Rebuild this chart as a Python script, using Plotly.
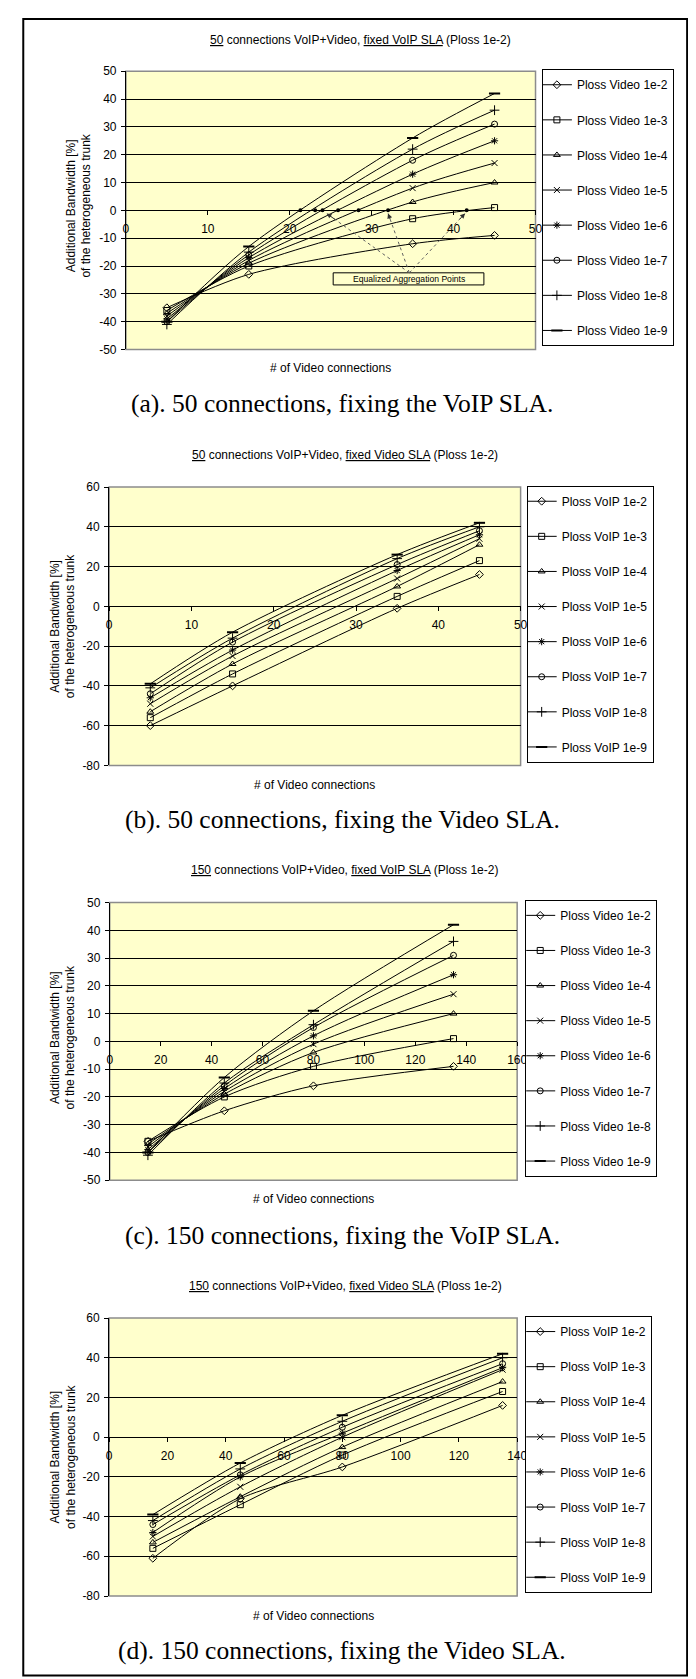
import plotly.graph_objects as go

W, H = 696, 1679

# ---------------- data ----------------
video_names = ["Ploss Video 1e-2", "Ploss Video 1e-3", "Ploss Video 1e-4", "Ploss Video 1e-5",
               "Ploss Video 1e-6", "Ploss Video 1e-7", "Ploss Video 1e-8", "Ploss Video 1e-9"]
voip_names = ["Ploss VoIP 1e-2", "Ploss VoIP 1e-3", "Ploss VoIP 1e-4", "Ploss VoIP 1e-5",
              "Ploss VoIP 1e-6", "Ploss VoIP 1e-7", "Ploss VoIP 1e-8", "Ploss VoIP 1e-9"]

# (a) 50 connections, fixed VoIP SLA
a_x = [5, 15, 35, 45]
a_1e2 = [-35, -23, -12, -9]
a_1e3 = [-36, -20, -3, 1]
a_1e4 = [-37, -19, 3, 10]
a_1e5 = [-38, -18, 8, 17]
a_1e6 = [-39, -17, 13, 25]
a_1e7 = [-40, -16, 18, 31]
a_1e8 = [-41, -15, 22, 36]
a_1e9 = [-40, -13, 26, 42]
# equalized aggregation points (zero crossings) in (a)
eq_x = [21.3, 23.1, 24.0, 25.9, 28.4, 32.0, 41.6]
eq_y = [0, 0, 0, 0, 0, 0, 0]

# (b) 50 connections, fixed Video SLA
b_x = [5, 15, 35, 45]
b_1e2 = [-60, -40, -1, 16]
b_1e3 = [-56, -34, 5, 23]
b_1e4 = [-53, -29, 10, 31]
b_1e5 = [-49, -25, 14, 34]
b_1e6 = [-46, -22, 18, 36]
b_1e7 = [-44, -18, 21, 38]
b_1e8 = [-41, -16, 24, 40]
b_1e9 = [-39, -13, 26, 42]

# (c) 150 connections, fixed VoIP SLA
c_x = [15, 45, 80, 135]
c_1e2 = [-36, -25, -16, -9]
c_1e3 = [-36, -20, -9, 1]
c_1e4 = [-37, -19, -4, 10]
c_1e5 = [-38, -18, -1, 17]
c_1e6 = [-39, -17, 2, 24]
c_1e7 = [-40, -16, 5, 31]
c_1e8 = [-41, -15, 6, 36]
c_1e9 = [-40, -13, 11, 42]

# (d) 150 connections, fixed Video SLA
d_x = [15, 45, 80, 135]
d_1e2 = [-61, -31, -15, 16]
d_1e3 = [-56, -34, -9, 23]
d_1e4 = [-53, -30, -5, 28]
d_1e5 = [-50, -25, 0, 34]
d_1e6 = [-48, -20, 2, 35]
d_1e7 = [-44, -19, 5, 37]
d_1e8 = [-42, -16, 8, 40]
d_1e9 = [-39, -13, 11, 42]

# tick values / labels
xt_50 = [0, 10, 20, 30, 40, 50]
xt_160 = [0, 20, 40, 60, 80, 100, 120, 140, 160]
xt_140 = [0, 20, 40, 60, 80, 100, 120, 140]
yt_a = [-50, -40, -30, -20, -10, 0, 10, 20, 30, 40, 50]
yt_b = [-80, -60, -40, -20, 0, 20, 40, 60]

titles = [
    "<u>50</u> connections VoIP+Video, <u>fixed VoIP SLA</u> (Ploss 1e-2)",
    "<u>50</u> connections VoIP+Video, <u>fixed Video SLA</u> (Ploss 1e-2)",
    "<u>150</u> connections VoIP+Video, <u>fixed VoIP SLA</u> (Ploss 1e-2)",
    "<u>150</u> connections VoIP+Video, <u>fixed Video SLA</u> (Ploss 1e-2)",
]
captions = [
    "(a). 50 connections, fixing the VoIP SLA.",
    "(b). 50 connections, fixing the Video SLA.",
    "(c). 150 connections, fixing the VoIP SLA.",
    "(d). 150 connections, fixing the Video SLA.",
]
x_title = "# of Video connections"
y_title = "Additional Bandwidth [%]<br>of the heterogeneous trunk"
eq_label = "Equalized Aggregation Points"

# ---------------- style / layout ----------------
SANS = "Liberation Sans, Arial, sans-serif"
SERIF = "Liberation Serif, Times New Roman, serif"
BG = "#FFFFCC"

symbols = ["diamond-open", "square-open", "triangle-up-open", "x-thin-open",
           "asterisk-open", "circle-open", "cross-thin-open", "line-ew-open"]
msizes = [6, 6, 6, 6, 6, 6, 7, 8]
mwidths = [1, 1, 1, 1, 1, 1, 1, 2]


def fx(px):
    return px / W


def fy(py):
    return 1 - py / H


panels = [
    dict(x=a_x, ys=[a_1e2, a_1e3, a_1e4, a_1e5, a_1e6, a_1e7, a_1e8, a_1e9], names=video_names,
         xr=[0, 50], xt=xt_50, yr=[-50, 50], yt=yt_a,
         L=117.1, R=534.5, T=56.7, B=337.3,
         leg_x=541, leg_y=54.7, title_x=356, title_y=25,
         xt_x=325.5, xt_y=356, yt_x=69.5, yt_y=192, cap_y=392),
    dict(x=b_x, ys=[b_1e2, b_1e3, b_1e4, b_1e5, b_1e6, b_1e7, b_1e8, b_1e9], names=voip_names,
         xr=[0, 50], xt=xt_50, yr=[-80, 60], yt=yt_b,
         L=100.0, R=519.3, T=476.0, B=756.7,
         leg_x=525.5, leg_y=474.7, title_x=340, title_y=443.3,
         xt_x=309.5, xt_y=776, yt_x=53, yt_y=616.3, cap_y=811.5),
    dict(x=c_x, ys=[c_1e2, c_1e3, c_1e4, c_1e5, c_1e6, c_1e7, c_1e8, c_1e9], names=video_names,
         xr=[0, 160], xt=xt_160, yr=[-50, 50], yt=yt_a,
         L=100.6, R=515.8, T=895.0, B=1175.0,
         leg_x=524, leg_y=892.3, title_x=340, title_y=862.3,
         xt_x=308, xt_y=1194, yt_x=53, yt_y=1031, cap_y=1230.5),
    dict(x=d_x, ys=[d_1e2, d_1e3, d_1e4, d_1e5, d_1e6, d_1e7, d_1e8, d_1e9], names=voip_names,
         xr=[0, 140], xt=xt_140, yr=[-80, 60], yt=yt_b,
         L=100.0, R=515.8, T=1314.0, B=1594.3,
         leg_x=524, leg_y=1312, title_x=340.5, title_y=1281.3,
         xt_x=308, xt_y=1614, yt_x=53, yt_y=1454, cap_y=1649.5),
]

fig = go.Figure()
layout = dict(
    width=W, height=H, margin=dict(l=0, r=0, t=0, b=0),
    paper_bgcolor="white", plot_bgcolor=BG,
    font=dict(family=SANS, size=12, color="black"),
    showlegend=True,
)
annotations = []
shapes = []

for i, p in enumerate(panels):
    sfx = "" if i == 0 else str(i + 1)
    xa, ya = "x" + sfx, "y" + sfx
    leg = "legend" + sfx
    bot, top = fy(p["B"]), fy(p["T"])
    zero_frac = (0 - p["yr"][0]) / (p["yr"][1] - p["yr"][0])
    layout["xaxis" + sfx] = dict(
        domain=[fx(p["L"]), fx(p["R"])], range=p["xr"], anchor="free",
        position=bot + zero_frac * (top - bot),
        tickvals=p["xt"], ticktext=[str(v) for v in p["xt"]],
        ticks="outside", ticklen=4, tickcolor="black", tickwidth=1,
        showline=True, linecolor="black", linewidth=1,
        showgrid=False, zeroline=False, fixedrange=True,
        tickfont=dict(family=SANS, size=12, color="black"), ticklabelstandoff=3,
    )
    layout["yaxis" + sfx] = dict(
        domain=[bot, top], range=p["yr"], anchor=xa,
        tickvals=p["yt"], ticktext=[str(v) for v in p["yt"]],
        ticks="outside", ticklen=4, tickcolor="black", tickwidth=1,
        showline=True, linecolor="black", linewidth=1,
        showgrid=True, gridcolor="black", gridwidth=1,
        zeroline=False, fixedrange=True,
        tickfont=dict(family=SANS, size=12, color="black"), ticklabelstandoff=2,
    )
    layout[leg] = dict(
        x=fx(p["leg_x"]), y=fy(p["leg_y"]), xanchor="left", yanchor="top",
        bgcolor="white", bordercolor="black", borderwidth=1,
        font=dict(family=SANS, size=12, color="black"),
        tracegroupgap=16.1, itemwidth=30, traceorder="grouped", indentation=-6,
    )
    for k, (yv, nm) in enumerate(zip(p["ys"], p["names"])):
        fig.add_trace(go.Scatter(
            x=p["x"], y=yv, name=nm, mode="lines+markers",
            xaxis=xa, yaxis=ya, legend=leg, legendgroup=f"p{i}s{k}",
            line=dict(color="black", width=1, shape="spline", smoothing=0.8),
            marker=dict(symbol=symbols[k], size=msizes[k], color="black",
                        line=dict(color="black", width=mwidths[k])),
        ))
    # plot-area border (gray)
    shapes.append(dict(type="rect", xref=xa + " domain", yref=ya + " domain",
                       x0=0, x1=1, y0=0, y1=1, layer="below",
                       line=dict(color="#8c8c8c", width=1.5)))
    # texts
    annotations.append(dict(text=titles[i], x=fx(p["title_x"]), y=fy(p["title_y"]),
                            xref="paper", yref="paper", showarrow=False,
                            xanchor="center", yanchor="middle",
                            font=dict(family=SANS, size=12, color="black")))
    annotations.append(dict(text=x_title, x=fx(p["xt_x"]), y=fy(p["xt_y"]),
                            xref="paper", yref="paper", showarrow=False,
                            xanchor="center", yanchor="middle",
                            font=dict(family=SANS, size=12, color="black")))
    annotations.append(dict(text=y_title, x=fx(p["yt_x"]), y=fy(p["yt_y"]),
                            xref="paper", yref="paper", showarrow=False, textangle=-90,
                            xanchor="center", yanchor="middle",
                            font=dict(family=SANS, size=12, color="black")))
    annotations.append(dict(text=captions[i], x=fx(337.5), y=fy(p["cap_y"]),
                            xref="paper", yref="paper", showarrow=False,
                            xanchor="center", yanchor="middle",
                            font=dict(family=SERIF, size=25.5, color="black")))

# equalized aggregation points in (a)
fig.add_trace(go.Scatter(x=eq_x, y=eq_y, mode="markers", xaxis="x", yaxis="y",
                         showlegend=False, hoverinfo="skip",
                         marker=dict(symbol="circle", size=4, color="black")))

# label box + dotted arrows in (a)
box_x0, box_x1, box_y0, box_y1 = 25.3, 43.7, -26.8, -22.45
shapes.append(dict(type="rect", xref="x", yref="y", x0=box_x0, x1=box_x1, y0=box_y0, y1=box_y1,
                   line=dict(color="black", width=1), fillcolor=BG, layer="above"))
annotations.append(dict(text=eq_label, x=(box_x0 + box_x1) / 2, y=(box_y0 + box_y1) / 2,
                        xref="x", yref="y", showarrow=False, xanchor="center", yanchor="middle",
                        font=dict(family=SANS, size=8.6, color="black")))
arrow_start = (34.6, -22.45)
arrow_ends = [(24.5, -1.1), (32.0, -1.1), (41.4, -1.1)]
for ex, ey in arrow_ends:
    shapes.append(dict(type="line", xref="x", yref="y", x0=arrow_start[0], y0=arrow_start[1],
                       x1=ex, y1=ey, line=dict(color="#606060", width=1, dash="dot")))
    tx = ex + 0.12 * (arrow_start[0] - ex)
    ty = ey + 0.12 * (arrow_start[1] - ey)
    annotations.append(dict(text="", x=ex, y=ey, ax=tx, ay=ty, xref="x", yref="y",
                            axref="x", ayref="y", showarrow=True, arrowhead=2,
                            arrowsize=1, arrowwidth=1, arrowcolor="#303030"))

# outer frame
shapes.append(dict(type="rect", xref="paper", yref="paper",
                   x0=fx(12.5), x1=fx(689), y0=fy(1674.5), y1=fy(4),
                   line=dict(color="black", width=2)))

layout["annotations"] = annotations
layout["shapes"] = shapes
fig.update_layout(**layout)
fig.write_html("out.html")
